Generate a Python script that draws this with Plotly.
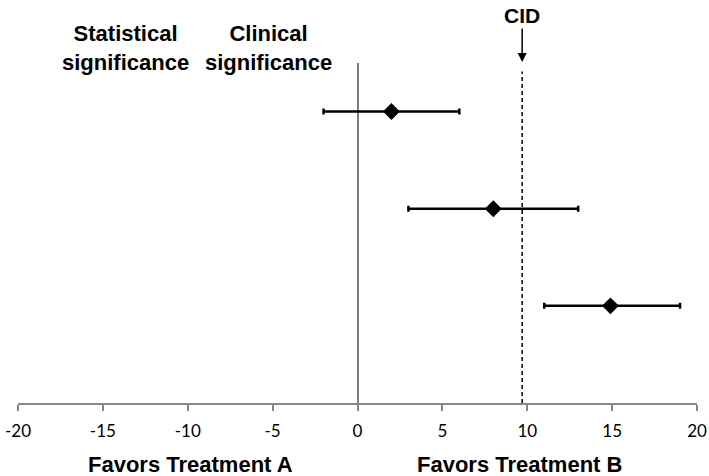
import plotly.graph_objects as go

rows = ["(A)", "(B)", "(C)"]
row_y = [3, 2, 1]
means = [2, 8, 14.9]
lower = [-2, 3, 11]
upper = [6, 13, 19]
cid = 9.7
tick_vals = [-20, -15, -10, -5, 0, 5, 10, 15, 20]
tick_text = ["-20", "-15", "-10", "-5", "0", "5", "10", "15", "20"]

plus = [u - m for u, m in zip(upper, means)]
minus = [m - l for m, l in zip(means, lower)]

bold = dict(family="Arial, Liberation Sans", size=22, color="black")

fig = go.Figure()
fig.add_trace(go.Scatter(
    x=means, y=row_y, mode="markers",
    marker=dict(symbol="diamond", size=13, color="black"),
    error_x=dict(type="data", symmetric=False, array=plus, arrayminus=minus,
                 color="black", thickness=2.5, width=3),
    showlegend=False, hoverinfo="skip"))

# CID dashed line
fig.add_shape(type="line", x0=cid, x1=cid, xref="x", yref="paper", y0=0, y1=0.975,
              line=dict(color="black", width=1.5, dash="4px,3px"))

ann = []
for r, y in zip(rows, row_y):
    ann.append(dict(x=-20.12, y=y, xref="x", yref="y", text=r, showarrow=False,
                    xanchor="center", yanchor="middle",
                    font=dict(family="Arial, Liberation Sans", size=21, color="black")))
ann.append(dict(x=-13.67, y=1.044, xref="x", yref="paper", text="<b>Statistical<br>significance</b>",
                showarrow=False, font=bold, align="center", xanchor="center", yanchor="middle"))
ann.append(dict(x=-5.27, y=1.044, xref="x", yref="paper", text="<b>Clinical<br>significance</b>",
                showarrow=False, font=bold, align="center", xanchor="center", yanchor="middle"))
ann.append(dict(x=cid, y=1.14, xref="x", yref="paper", text="<b>CID</b>",
                showarrow=False, xanchor="center", yanchor="middle",
                font=dict(family="Arial, Liberation Sans", size=21, color="black")))
ann.append(dict(x=cid, y=1.003, xref="x", yref="paper", text="", showarrow=True,
                ax=0, ay=-35, arrowhead=2, arrowsize=1.2, arrowwidth=1.5, arrowcolor="black", standoff=0))
ann.append(dict(x=-9.84, y=-0.182, xref="x", yref="paper", text="<b>Favors Treatment A</b>",
                showarrow=False, font=bold, xanchor="center", yanchor="middle"))
ann.append(dict(x=9.56, y=-0.182, xref="x", yref="paper", text="<b>Favors Treatment B</b>",
                showarrow=False, font=bold, xanchor="center", yanchor="middle"))

fig.update_layout(
    width=709, height=476,
    margin=dict(l=18, r=12, t=63, b=73, autoexpand=False),
    plot_bgcolor="white", paper_bgcolor="white",
    annotations=ann,
    xaxis=dict(range=[-20, 20], tickvals=tick_vals, ticktext=tick_text, showgrid=False,
               automargin=False,
               zeroline=True, zerolinecolor="#7f7f7f", zerolinewidth=1.5,
               showline=True, linecolor="#888888", linewidth=2,
               ticks="outside", ticklen=6, tickwidth=1.5, tickcolor="#888888",
               ticklabelstandoff=6,
               tickfont=dict(family="Lato", size=17, color="black")),
    yaxis=dict(range=[0, 3.5], visible=False, showgrid=False, zeroline=False, automargin=False),
)

# drop the default 8px body margin so the figure fills the window exactly
fig.write_html("out.html", config={"displayModeBar": False},
               post_script="document.body.style.margin='0';")
